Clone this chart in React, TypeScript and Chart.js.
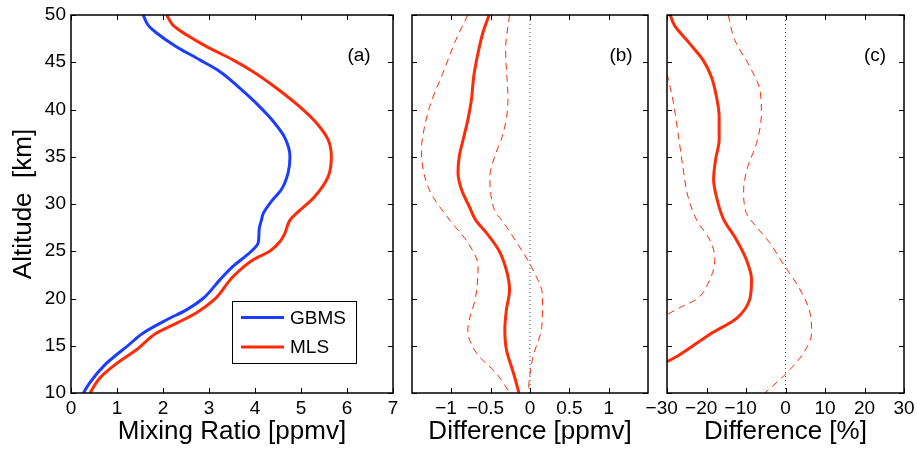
import React, { useEffect, useRef } from "react";
import { Chart, registerables } from "chart.js";

Chart.register(...registerables);

// ---------------- data ----------------
// Panel (a): mixing ratio profiles [ppmv] vs altitude [km]
const altGBMS = [50, 48.9, 48.1, 46.65, 45.25, 44, 42.25, 40.3, 38.55, 37, 35, 33.3, 31.5, 30.3, 29, 28.3, 27.3, 25.9, 25, 23.4, 22, 20, 18.8, 17.75, 16.35, 14.9, 14.05, 13, 11.1, 10];
const gbms = [1.57, 1.68, 1.86, 2.29, 2.8, 3.24, 3.67, 4.1, 4.43, 4.65, 4.76, 4.72, 4.57, 4.36, 4.18, 4.14, 4.09, 4.07, 3.92, 3.52, 3.24, 2.87, 2.51, 2.08, 1.57, 1.21, 0.99, 0.74, 0.41, 0.27];
const altMLS = [50, 48.9, 47.9, 46.65, 45.25, 44, 42.25, 40.3, 38.55, 36.8, 35, 32.9, 30.8, 29, 28.3, 26.9, 26, 25, 24.1, 22.3, 19.9, 18.5, 17.4, 16.35, 14.6, 13, 11.6, 10];
const mls = [2.08, 2.22, 2.51, 2.95, 3.52, 3.96, 4.47, 4.97, 5.34, 5.59, 5.66, 5.59, 5.3, 4.9, 4.76, 4.65, 4.54, 4.32, 3.96, 3.52, 3.12, 2.73, 2.3, 1.86, 1.43, 0.96, 0.63, 0.41];

// Panel (b): difference [ppmv]
const altDiffMean = [50, 48.1, 46, 43.5, 41, 38.9, 36.8, 35, 33.3, 31.5, 29.7, 28.3, 26.9, 25.15, 23, 20.9, 18.8, 16.7, 14.6, 12.1, 10];
const diffMean = [-0.52, -0.6, -0.66, -0.715, -0.745, -0.79, -0.85, -0.9, -0.915, -0.87, -0.77, -0.69, -0.55, -0.4, -0.3, -0.26, -0.3, -0.32, -0.3, -0.21, -0.14];
const altDiffLow = [50, 47.4, 43.8, 40.7, 38.2, 35.7, 33.3, 31.15, 28.4, 25.9, 23.4, 20.2, 16.7, 14.2, 12.1, 10];
const diffLow = [-0.79, -0.94, -1.11, -1.26, -1.34, -1.38, -1.35, -1.26, -1.03, -0.79, -0.66, -0.69, -0.79, -0.68, -0.43, -0.255];
const altDiffHigh = [50, 46.3, 41, 37.5, 35, 32.9, 31.15, 29, 28.3, 26.2, 23, 20.2, 17, 13.9, 11.4, 10];
const diffHigh = [-0.26, -0.31, -0.28, -0.34, -0.45, -0.51, -0.5, -0.43, -0.36, -0.19, 0.04, 0.16, 0.15, 0.04, -0.01, -0.02];

// Panel (c): difference [%]
const altPctMean = [50, 48.9, 47, 45.25, 43.5, 41.4, 39.25, 36.8, 34.7, 32.6, 30.8, 28.4, 26.2, 24.1, 22, 20, 17.9, 16.2, 14.05, 13.3];
const pctMean = [-29.2, -28.1, -24.3, -20.9, -18.8, -17.5, -16.8, -16.8, -17.7, -18.2, -17.5, -15.7, -12.4, -9.9, -8.6, -9.0, -12.4, -19.2, -26.8, -30];
const altPctLow = [43.8, 41, 37.5, 34, 30.8, 28.4, 25.9, 24.1, 21.6, 19.9, 19.2, 18.3];
const pctLow = [-30, -28.5, -27.2, -26.0, -24.7, -22.6, -18.8, -17.9, -19.6, -22.6, -26.0, -30];
const altPctHigh = [50, 47.4, 44.5, 42.1, 39.6, 36.4, 34, 31.5, 29, 27.8, 25.9, 23.4, 21.3, 18.5, 16.35, 14.2, 12.1, 10];
const pctHigh = [-14.5, -12.9, -9.0, -6.5, -6.1, -7.35, -9.5, -10.6, -9.9, -7.8, -4.0, -0.2, 3.2, 6.2, 6.6, 4.5, 0.25, -5.2];

// zero reference line
const zeroX = [0, 0];
const zeroAlt = [10, 50];

// axis ticks
const ticksB = [-1, -0.5, 0, 0.5, 1];

// ---------------- styling ----------------
const FONT = "'Liberation Sans', Arial, Helvetica, sans-serif";
const BLUE = "#1b3dff";
const RED = "#ff2b06";
const W = 917;
const H = 449;

Chart.defaults.font.family = FONT;
Chart.defaults.color = "#000";

function pts(xs: number[], ys: number[]) {
  return xs.map((x, i) => ({ x, y: ys[i] }));
}

function fmt(v: number) {
  return v < 0 ? "\u2212" + String(Math.abs(v)) + "  " : String(v);
}

const boxPlugin = {
  id: "matlabBox",
  afterDatasetsDraw(chart: any, _args: any, opts: any) {
    const { ctx, chartArea: a, scales } = chart;
    const xs = scales.x;
    const ys = scales.y;
    ctx.save();
    ctx.strokeStyle = "#000";
    ctx.lineWidth = 1.5;
    ctx.strokeRect(a.left, a.top, a.right - a.left, a.bottom - a.top);
    ctx.lineWidth = 1;
    const tl = 5;
    ctx.beginPath();
    xs.ticks.forEach((t: any) => {
      const px = Math.round(xs.getPixelForValue(t.value)) + 0.5;
      ctx.moveTo(px, a.bottom);
      ctx.lineTo(px, a.bottom - tl);
      ctx.moveTo(px, a.top);
      ctx.lineTo(px, a.top + tl);
    });
    ys.ticks.forEach((t: any) => {
      const py = Math.round(ys.getPixelForValue(t.value)) + 0.5;
      ctx.moveTo(a.left, py);
      ctx.lineTo(a.left + tl, py);
      ctx.moveTo(a.right, py);
      ctx.lineTo(a.right - tl, py);
    });
    ctx.stroke();

    if (opts && opts.label) {
      ctx.font = `19px ${FONT}`;
      ctx.fillStyle = "#000";
      ctx.textAlign = "center";
      ctx.textBaseline = "middle";
      ctx.fillText(opts.label, a.right - opts.labelDx, a.top + opts.labelDy);
    }

    if (opts && opts.legend) {
      const L = opts.legend;
      ctx.fillStyle = "#fff";
      ctx.fillRect(L.x, L.y, L.w, L.h);
      ctx.lineWidth = 1;
      ctx.strokeStyle = "#000";
      ctx.strokeRect(L.x + 0.5, L.y + 0.5, L.w, L.h);
      const items = chart.data.datasets.filter((d: any) => d.label);
      items.forEach((d: any, i: number) => {
        const cy = L.y + L.first + i * L.step;
        ctx.strokeStyle = d.borderColor;
        ctx.lineWidth = 3;
        ctx.beginPath();
        ctx.moveTo(L.x + 9, cy);
        ctx.lineTo(L.x + 52, cy);
        ctx.stroke();
        ctx.fillStyle = "#000";
        ctx.font = `19px ${FONT}`;
        ctx.textAlign = "left";
        ctx.textBaseline = "middle";
        ctx.fillText(d.label, L.x + 58, cy + 1);
      });
    }
    ctx.restore();
  },
};

function lineDs(data: any, color: string, width: number, dash: number[] = [], label?: string) {
  return {
    label,
    data,
    indexAxis: "y",
    borderColor: color,
    backgroundColor: color,
    borderWidth: width,
    borderDash: dash,
    pointRadius: 0,
    fill: false,
    cubicInterpolationMode: "monotone",
  };
}

function makeConfig(opts: {
  datasets: any[];
  xMin: number;
  xMax: number;
  xStep?: number;
  xTicks?: number[];
  xTitle: string;
  left: number;
  right: number;
  showY: boolean;
  label: string;
  labelDx: number;
  legend?: any;
}) {
  return {
    type: "line",
    data: { datasets: opts.datasets },
    plugins: [boxPlugin],
    options: {
      animation: false,
      responsive: false,
      devicePixelRatio: 1,
      layout: { padding: { left: opts.showY ? 0 : opts.left, right: W - opts.right, top: 15, bottom: 0 } },
      plugins: {
        legend: { display: false },
        tooltip: { enabled: false },
        matlabBox: { label: opts.label, labelDx: opts.labelDx, labelDy: 41, legend: opts.legend },
      },
      scales: {
        x: {
          type: "linear",
          position: "bottom",
          min: opts.xMin,
          max: opts.xMax,
          grid: { display: false, drawTicks: false },
          border: { display: false },
          ticks: {
            stepSize: opts.xStep,
            padding: 4,
            autoSkip: false,
            maxRotation: 0,
            font: { size: 19 },
            color: "#000",
            callback: (v: any) => fmt(Number(v)),
          },
          afterBuildTicks: (s: any) => {
            if (opts.xTicks) s.ticks = opts.xTicks.map((value) => ({ value }));
          },
          title: { display: true, text: opts.xTitle, font: { size: 26 }, color: "#000", padding: { top: 0, bottom: 2 } },
          afterFit: (s: any) => {
            s.height = 56;
            s.paddingLeft = 0;
            s.paddingRight = 0;
          },
        },
        y: {
          type: "linear",
          position: "left",
          min: 10,
          max: 50,
          grid: { display: false, drawTicks: false },
          border: { display: false },
          ticks: { stepSize: 5, padding: 5, display: opts.showY, font: { size: 19 }, color: "#000" },
          title: { display: opts.showY, text: "Altitude  [km]", font: { size: 26 }, color: "#000", padding: { top: 8, bottom: 0 } },
          afterFit: (s: any) => {
            s.width = opts.showY ? opts.left : 0;
            s.paddingTop = 0;
            s.paddingBottom = 0;
          },
        },
      },
    },
  };
}

function Panel({ config }: { config: any }) {
  const ref = useRef<HTMLCanvasElement | null>(null);
  useEffect(() => {
    if (!ref.current) return;
    const chart = new Chart(ref.current, config);
    return () => chart.destroy();
  }, [config]);
  return (
    <canvas
      ref={ref}
      width={W}
      height={H}
      style={{ position: "absolute", left: 0, top: 0, width: W, height: H }}
    />
  );
}

const configA = makeConfig({
  datasets: [
    lineDs(pts(gbms, altGBMS), BLUE, 3, [], "GBMS"),
    lineDs(pts(mls, altMLS), RED, 3, [], "MLS"),
  ],
  xMin: 0,
  xMax: 7,
  xStep: 1,
  xTitle: "Mixing Ratio [ppmv]",
  left: 71,
  right: 393,
  showY: true,
  label: "(a)",
  labelDx: 34,
  legend: { x: 232, y: 301, w: 124, h: 62, first: 16.5, step: 29.5 },
});

const configB = makeConfig({
  datasets: [
    lineDs(pts(zeroX, zeroAlt), "#444", 1, [1, 3]),
    lineDs(pts(diffLow, altDiffLow), RED, 1, [7, 5]),
    lineDs(pts(diffHigh, altDiffHigh), RED, 1, [7, 5]),
    lineDs(pts(diffMean, altDiffMean), RED, 3),
  ],
  xMin: -1.5,
  xMax: 1.5,
  xTicks: ticksB,
  xTitle: "Difference [ppmv]",
  left: 412,
  right: 648,
  showY: false,
  label: "(b)",
  labelDx: 27,
});

const configC = makeConfig({
  datasets: [
    lineDs(pts(zeroX, zeroAlt), "#444", 1, [1, 3]),
    lineDs(pts(pctLow, altPctLow), RED, 1, [7, 5]),
    lineDs(pts(pctHigh, altPctHigh), RED, 1, [7, 5]),
    lineDs(pts(pctMean, altPctMean), RED, 3),
  ],
  xMin: -30,
  xMax: 30,
  xStep: 10,
  xTitle: "Difference [%]",
  left: 667,
  right: 904,
  showY: false,
  label: "(c)",
  labelDx: 29,
});

export default function App() {
  return (
    <div style={{ position: "absolute", left: 0, top: 0, width: W, height: H, background: "#fff" }}>
      <Panel config={configA} />
      <Panel config={configB} />
      <Panel config={configC} />
    </div>
  );
}
